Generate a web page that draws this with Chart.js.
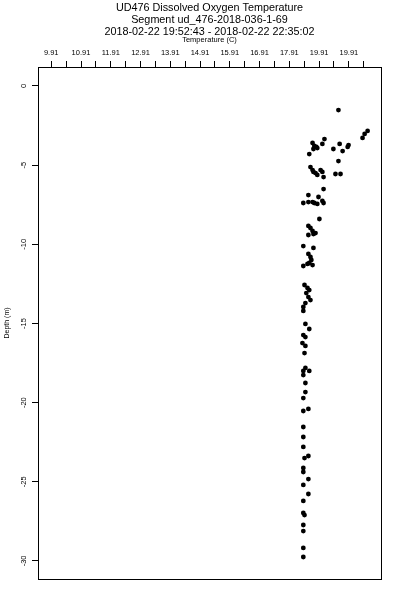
<!DOCTYPE html>
<html>
<head>
<meta charset="utf-8">
<title>UD476 Dissolved Oxygen Temperature</title>
<script src="https://cdn.jsdelivr.net/npm/chart.js@4.4.0/dist/chart.umd.min.js"></script>
<style>
  body { margin: 0; background: #fff; }
  canvas { display: block; }
</style>
</head>
<body>
<canvas id="profile" width="400" height="600"></canvas>
<script>
const titleLines = [
  'UD476 Dissolved Oxygen Temperature',
  'Segment ud_476-2018-036-1-69',
  '2018-02-22 19:52:43 - 2018-02-22 22:35:02'
];

// temperature (C) and depth (m) of each sample
const temperature = [
  19.56, 20.54, 20.44, 20.37, 19.09, 18.69, 18.75, 18.82, 18.72, 18.85,
  19.02, 19.60, 19.90, 19.87, 19.39, 19.70, 18.58, 19.56, 18.62, 18.69,
  18.72, 18.79, 18.85, 18.96, 19.02, 19.06, 19.46, 19.63, 19.06, 18.55,
  18.89, 18.38, 18.55, 18.69, 18.75, 18.85, 19.02, 19.06, 18.92, 18.55,
  18.62, 18.69, 18.79, 18.72, 18.55, 18.38, 18.72, 18.55, 18.62, 18.65,
  18.58, 18.52, 18.38, 18.69, 18.42, 18.52, 18.58, 18.48, 18.55, 18.62,
  18.45, 18.38, 18.38, 18.45, 18.58, 18.38, 18.45, 18.35, 18.45, 18.42,
  18.45, 18.38, 18.58, 18.38, 18.45, 18.45, 18.38, 18.38, 18.55, 18.38,
  18.38, 18.38, 18.42, 18.55, 18.38, 18.38, 18.55, 18.38, 18.55, 18.38,
  18.38, 18.42, 18.38, 18.38, 18.38, 18.38
];
const depth = [
  -1.52, -2.84, -3.03, -3.28, -3.35, -3.60, -3.79, -3.85, -3.98, -3.92,
  -3.66, -3.66, -3.73, -3.85, -3.98, -4.11, -4.30, -4.74, -5.12, -5.31,
  -5.43, -5.50, -5.62, -5.31, -5.43, -5.75, -5.56, -5.56, -6.51, -6.89,
  -7.01, -7.39, -7.33, -7.33, -7.39, -7.45, -7.26, -7.39, -8.40, -8.84,
  -8.97, -9.16, -9.29, -9.35, -9.41, -10.11, -10.23, -10.61, -10.80, -10.99,
  -11.18, -11.24, -11.37, -11.31, -12.57, -12.76, -12.89, -13.08, -13.33, -13.52,
  -13.71, -13.96, -14.21, -15.03, -15.35, -15.73, -15.86, -16.24, -16.42, -16.87,
  -17.81, -18.00, -18.00, -18.26, -18.76, -19.33, -19.71, -20.53, -20.40, -21.54,
  -22.17, -22.80, -23.50, -23.37, -24.13, -24.38, -24.83, -25.20, -25.77, -26.21,
  -26.97, -27.10, -27.73, -28.11, -29.18, -29.75
];

const tempTicks = [9.91, 10.41, 10.91, 11.41, 11.91, 12.41, 12.91, 13.41, 13.91, 14.41, 14.91,
  15.41, 15.91, 16.41, 16.91, 17.41, 17.91, 18.41, 18.91, 19.41, 19.91, 20.41];
const tempTickLabels = ['9.91', '', '10.91', '', '11.91', '', '12.91', '', '13.91', '', '14.91',
  '', '15.91', '', '16.91', '', '17.91', '', '19.91', '', '19.91', ''];
const depthTicks = [0, -5, -10, -15, -20, -25, -30];

const points = temperature.map((t, i) => ({ x: t, y: depth[i] }));
const font = 'Liberation Sans, Arial, sans-serif';

// titles over the plot and the closed frame round it
const frame = {
  id: 'frame',
  afterDraw(chart) {
    const { ctx, chartArea: a } = chart;
    ctx.save();
    ctx.strokeStyle = '#000';
    ctx.lineWidth = 1;
    ctx.strokeRect(Math.round(a.left) + 0.5, Math.round(a.top) + 0.5,
      Math.round(a.right - a.left), Math.round(a.bottom - a.top));
    ctx.fillStyle = '#000';
    ctx.textAlign = 'center';
    ctx.textBaseline = 'middle';
    ctx.font = '10.8px ' + font;
    const cx = (a.left + a.right) / 2;
    titleLines.forEach((line, i) => ctx.fillText(line, cx, 8.5 + i * 11.6));
    ctx.restore();
  }
};

new Chart(document.getElementById('profile'), {
  type: 'scatter',
  data: {
    datasets: [{
      data: points,
      backgroundColor: '#000',
      borderColor: '#000',
      borderWidth: 0,
      pointRadius: 2.4
    }]
  },
  options: {
    responsive: false,
    animation: false,
    layout: { padding: { top: 0, left: 0, right: 19, bottom: 21 } },
    plugins: { legend: { display: false }, tooltip: { enabled: false } },
    scales: {
      x: {
        type: 'linear',
        position: 'top',
        min: 9.465,
        max: 20.99,
        afterBuildTicks: s => { s.ticks = tempTicks.map(v => ({ value: v })); },
        afterFit: s => { s.height = 67; },
        ticks: {
          autoSkip: false,
          maxRotation: 0,
          padding: 4,
          color: '#000',
          font: { family: font, size: 7.5 },
          callback: (v, i) => tempTickLabels[i]
        },
        grid: { drawOnChartArea: false, drawTicks: true, tickLength: 6, color: '#000' },
        border: { display: true, color: '#000' },
        title: {
          display: true,
          text: 'Temperature (C)',
          color: '#000',
          font: { family: font, size: 7.5 },
          padding: { top: 35, bottom: 0 }
        }
      },
      y: {
        type: 'linear',
        position: 'left',
        min: -31.14,
        max: 1.2,
        afterBuildTicks: s => { s.ticks = depthTicks.map(v => ({ value: v })); },
        afterFit: s => { s.width = 38; },
        ticks: {
          autoSkip: false,
          minRotation: 90,
          maxRotation: 90,
          crossAlign: 'center',
          padding: 3,
          color: '#000',
          font: { family: font, size: 7.5 }
        },
        grid: { drawOnChartArea: false, drawTicks: true, tickLength: 6, color: '#000' },
        border: { display: true, color: '#000' },
        title: {
          display: true,
          text: 'Depth (m)',
          color: '#000',
          font: { family: font, size: 7 },
          padding: { top: 3, bottom: 0 }
        }
      }
    }
  },
  plugins: [frame]
});
</script>
</body>
</html>
